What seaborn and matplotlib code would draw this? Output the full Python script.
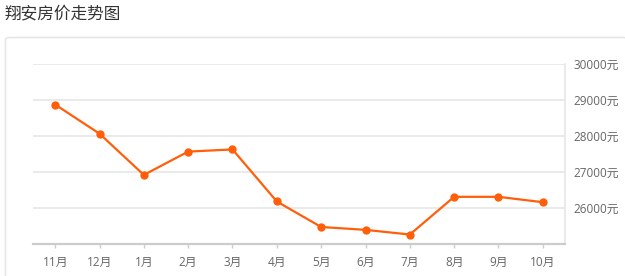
import matplotlib
matplotlib.use("Agg")
import matplotlib.pyplot as plt
from matplotlib.patches import FancyBboxPatch
import seaborn as sns
import pandas as pd

months = ["11月", "12月", "1月", "2月", "3月", "4月", "5月", "6月", "7月", "8月", "9月", "10月"]
prices = [28870, 28060, 26910, 27560, 27620, 26170, 25460, 25380, 25250, 26300, 26300, 26150]
yticks = [26000, 27000, 28000, 29000, 30000]
title = "翔安房价走势图"

sns.set_theme(style="white")
plt.rcParams["font.family"] = ["Noto Sans CJK SC", "DejaVu Sans"]
tick_family = ["Open Sans", "Noto Sans CJK SC"]

df = pd.DataFrame({"month": months, "price": prices, "x": range(len(months))})

fig = plt.figure(figsize=(6.25, 2.76), dpi=100)

# outer panel (drawn behind the axes)
panel = FancyBboxPatch((5.5 / 625, -0.05), 0.995, 1 - 37.5 / 276 + 0.05,
                       boxstyle="round,pad=0,rounding_size=0.008",
                       transform=fig.transFigure, facecolor="white",
                       edgecolor="#e6e6e6", linewidth=1.2, zorder=-10)
fig.add_artist(panel)

ax = fig.add_axes([33 / 625, 1 - 243.5 / 276, (565 - 33) / 625, (243.5 - 64) / 276])
ax.set_zorder(5)

sns.lineplot(data=df, x="x", y="price", ax=ax, color="#ff5f0a", linewidth=1.6,
             marker="o", markersize=6, markeredgewidth=0, zorder=3)

ax.set_xlim(-0.5, len(months) - 0.5)
ax.set_ylim(25000, 30000)
ax.set_xticks(range(len(months)))
ax.set_xticklabels(months, family=tick_family)
ax.set_yticks(yticks)
ax.set_yticklabels([f"{v}元" for v in yticks], family=tick_family)
ax.yaxis.tick_right()
ax.set_xlabel("")
ax.set_ylabel("")

for v in yticks:
    ax.axhline(v, color="#e6e6e6", linewidth=1.2, zorder=1)

for s in ["top", "left"]:
    ax.spines[s].set_visible(False)
ax.spines["right"].set_color("#e6e6e6")
ax.spines["right"].set_linewidth(1.2)
ax.spines["bottom"].set_color("#cccccc")
ax.spines["bottom"].set_linewidth(1.6)

ax.tick_params(axis="x", length=3, width=1, color="#cccccc", labelsize=8.5,
               labelcolor="#666666", pad=6, bottom=True)
ax.tick_params(axis="y", length=0, labelsize=8.5, labelcolor="#666666", pad=6)
ax.patch.set_alpha(0)

fig.text(5 / 625, 1 - 14 / 276, title, fontsize=12, color="#333333",
         ha="left", va="center")

fig.savefig("out.png", dpi=100)
